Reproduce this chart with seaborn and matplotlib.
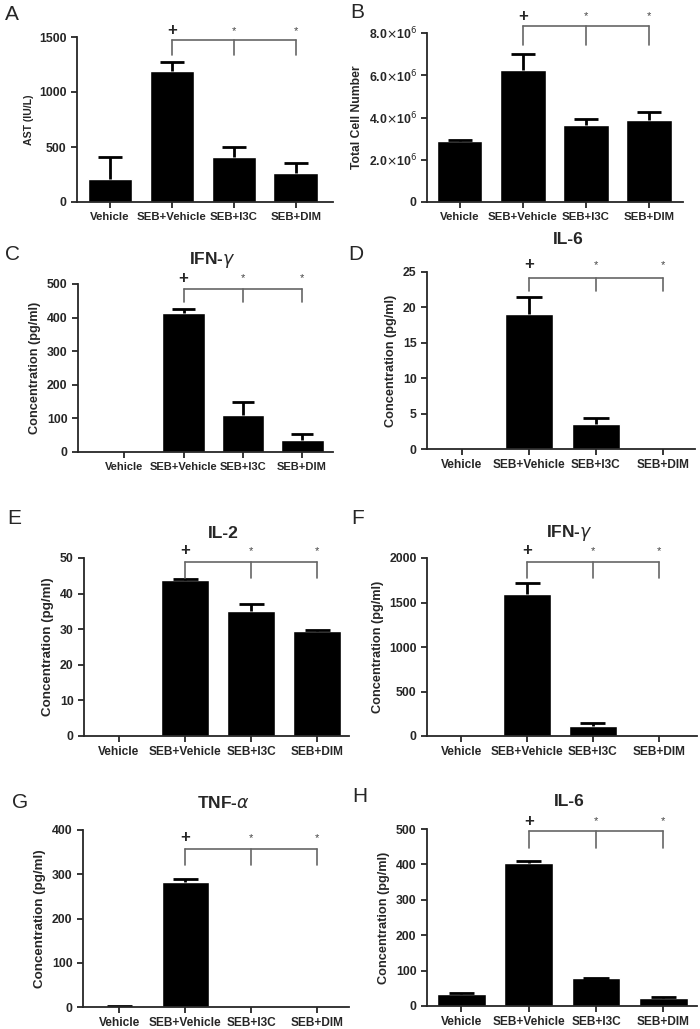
import numpy as np
import pandas as pd
import matplotlib
matplotlib.use('Agg')
import matplotlib.pyplot as plt
import seaborn as sns

sns.set_style('ticks')
plt.rcParams['font.family'] = ['Liberation Sans', 'DejaVu Sans']

# ---- data ----
groups = ['Vehicle', 'SEB+Vehicle', 'SEB+I3C', 'SEB+DIM']

ast_mean = [212, 1195, 407, 266]
ast_top = [407, 1270, 498, 353]

cells_mean = [2.87e6, 6.26e6, 3.63e6, 3.87e6]
cells_top = [2.93e6, 7.02e6, 3.94e6, 4.28e6]

ifng1_mean = [0, 415, 109, 35]
ifng1_top = [0, 425, 150, 54]

il6_1_mean = [0, 19.1, 3.6, 0]
il6_1_top = [0, 21.4, 4.4, 0]

il2_mean = [0, 43.9, 35.2, 29.5]
il2_top = [0, 44.0, 37.1, 29.8]

ifng2_mean = [0, 1601, 109, 0]
ifng2_top = [0, 1718, 147, 0]

tnfa_mean = [2.5, 283, 0, 0]
tnfa_top = [2.5, 290, 0, 0]

il6_2_mean = [35, 404, 80, 22.6]
il6_2_top = [37, 411, 80, 26]

W, H = 700, 1029
fig = plt.figure(figsize=(W / 100, H / 100), dpi=100)


def box(l, r, t, b):
    return [l / W, 1 - b / H, (r - l) / W, (b - t) / H]


conc = 'Concentration (pg/ml)'
panels = [
    # letter, title, ylabel, ylabel size, xtick size, mean, top, ymax, yticks, yticklabels,
    # rect, xlim, bracket, drop, mark, letter pos, title y
    ('A', '', 'AST (IU/L)', 7.6, 8.2, ast_mean, ast_top, 1500, [0, 500, 1000, 1500], None,
     box(77, 333, 37, 202), (-0.53, 3.6), 0.98, 0.893, 1.037, (12, 15), None),
    ('B', '', 'Total Cell Number', 8.7, 8.2, cells_mean, cells_top, 8e6, [0, 2e6, 4e6, 6e6, 8e6],
     ['0', r'2.0$\times$10$^6$', r'4.0$\times$10$^6$', r'6.0$\times$10$^6$', r'8.0$\times$10$^6$'],
     box(427, 683, 33, 202), (-0.52, 3.54), 1.04, 0.93, 1.10, (357, 13), None),
    ('C', 'IFN-$\\gamma$', conc, 9.2, 8.0, ifng1_mean, ifng1_top, 500, [0, 100, 200, 300, 400, 500], None,
     box(78, 333, 284, 452), (-0.78, 3.52), 0.97, 0.89, 1.035, (12, 254), 260),
    ('D', 'IL-6', conc, 9.2, 8.6, il6_1_mean, il6_1_top, 25, [0, 5, 10, 15, 20, 25], None,
     box(427, 695, 272, 449), (-0.52, 3.48), 0.964, 0.89, 1.04, (356, 255), 240),
    ('E', 'IL-2', conc, 9.6, 8.6, il2_mean, il2_top, 50, [0, 10, 20, 30, 40, 50], None,
     box(84, 349, 558, 736), (-0.53, 3.48), 0.98, 0.89, 1.04, (14, 518), 533),
    ('F', 'IFN-$\\gamma$', conc, 9.2, 8.6, ifng2_mean, ifng2_top, 2000, [0, 500, 1000, 1500, 2000], None,
     box(427, 697, 558, 736), (-0.52, 3.58), 0.98, 0.89, 1.04, (358, 518), 533),
    ('G', 'TNF-$\\alpha$', conc, 9.6, 8.6, tnfa_mean, tnfa_top, 400, [0, 100, 200, 300, 400], None,
     box(83, 349, 830, 1007), (-0.55, 3.48), 0.895, 0.805, 0.957, (20, 803), 803),
    ('H', 'IL-6', conc, 9.2, 8.6, il6_2_mean, il6_2_top, 500, [0, 100, 200, 300, 400, 500], None,
     box(427, 697, 829, 1006), (-0.51, 3.5), 0.986, 0.89, 1.044, (360, 797), 802),
]

for (letter, title, ylabel, ysize, xsize, mean, top, ymax, yticks, yticklabels,
     rect, xlim, br, drop, mark, lpos, ty) in panels:
    ax = fig.add_axes(rect)
    df = pd.DataFrame({'group': groups, 'value': mean})
    sns.barplot(data=df, x='group', y='value', color='black', width=0.72,
                errorbar=None, saturation=1, ax=ax)

    # upper-only SEM bars
    x = np.arange(len(groups))
    mean_a = np.array(mean, dtype=float)
    top_a = np.array(top, dtype=float)
    show = top_a > 0
    ax.vlines(x[show], mean_a[show], top_a[show], color='black', lw=2)
    ax.hlines(top_a[show], x[show] - 0.19, x[show] + 0.19, color='black', lw=2)

    ax.set_xlim(*xlim)
    ax.set_ylim(0, ymax)
    ax.set_yticks(yticks)
    if yticklabels:
        ax.set_yticklabels(yticklabels)
    ax.set_xlabel('')
    ax.set_ylabel(ylabel, fontsize=ysize, fontweight='bold')
    ax.tick_params(axis='both', width=1.3, length=4, direction='out')
    ax.tick_params(axis='x', labelsize=xsize)
    ax.tick_params(axis='y', labelsize=8.8)
    for lab in ax.get_xticklabels() + ax.get_yticklabels():
        lab.set_fontweight('bold')
    sns.despine(ax=ax)
    ax.spines['left'].set_linewidth(1.3)
    ax.spines['bottom'].set_linewidth(1.3)

    # significance bracket
    gray = '#666666'
    ax.plot([1, 3], [br * ymax, br * ymax], color=gray, lw=1.2, clip_on=False)
    for xi in [1, 2, 3]:
        ax.plot([xi, xi], [br * ymax, drop * ymax], color=gray, lw=1.2, clip_on=False)
    ax.text(1, mark * ymax, '+', ha='center', va='center', fontsize=12,
            fontweight='bold', clip_on=False)
    for xi in [2, 3]:
        ax.text(xi, mark * ymax, '*', ha='center', va='center', fontsize=8,
                color='#444444', clip_on=False)

    fig.text(lpos[0] / W, 1 - lpos[1] / H, letter, fontsize=15, ha='center', va='center')
    if title:
        cx = (rect[0] + rect[0] + rect[2]) / 2 + 0.01
        fig.text(cx, 1 - ty / H, title, fontsize=12.5, fontweight='bold',
                 ha='center', va='center')

fig.savefig('out.png', dpi=100, facecolor='white')
